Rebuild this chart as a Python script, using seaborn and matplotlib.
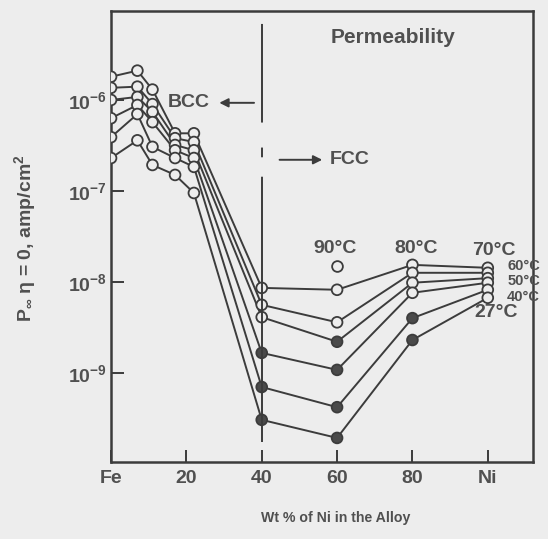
import matplotlib
matplotlib.use("Agg")
import matplotlib.pyplot as plt
import seaborn as sns
import pandas as pd
from matplotlib.ticker import NullLocator

# ---------------- data ----------------
ni_pct = [0, 7, 11, 17, 22, 40, 60, 80, 100]
temps = ["80°C", "70°C", "60°C", "50°C", "40°C", "27°C"]
p_80 = [1.8e-6, 2.1e-6, 1.3e-6, 4.3e-7, 4.3e-7, 8.6e-9, 8.2e-9, 1.54e-8, 1.43e-8]
p_70 = [1.36e-6, 1.4e-6, 9.0e-7, 3.8e-7, 3.45e-7, 5.6e-9, 3.6e-9, 1.26e-8, 1.26e-8]
p_60 = [1.0e-6, 1.08e-6, 7.4e-7, 3.2e-7, 2.8e-7, 4.1e-9, 2.2e-9, 9.8e-9, 1.1e-8]
p_50 = [6.3e-7, 8.8e-7, 5.7e-7, 2.8e-7, 2.3e-7, 1.66e-9, 1.08e-9, 7.6e-9, 9.8e-9]
p_40 = [3.9e-7, 7.0e-7, 3.05e-7, 2.3e-7, 1.84e-7, 7.0e-10, 4.2e-10, 4.0e-9, 8.2e-9]
p_27 = [2.3e-7, 3.6e-7, 1.93e-7, 1.5e-7, 9.5e-8, 3.05e-10, 1.93e-10, 2.3e-9, 6.7e-9]
# filled (1) vs open (0) markers
f_80 = [0, 0, 0, 0, 0, 0, 0, 0, 0]
f_70 = [0, 0, 0, 0, 0, 0, 0, 0, 0]
f_60 = [0, 0, 0, 0, 0, 0, 1, 0, 0]
f_50 = [0, 0, 0, 0, 0, 1, 1, 0, 0]
f_40 = [0, 0, 0, 0, 0, 1, 1, 1, 0]
f_27 = [0, 0, 0, 0, 0, 1, 1, 1, 0]
# isolated 90 °C point
ni_90 = [60]
p_90 = [1.5e-8]

x_ticks = [0, 20, 40, 60, 80, 100]
x_tick_labels = ["Fe", "20", "40", "60", "80", "Ni"]
y_ticks = [1e-6, 1e-7, 1e-8, 1e-9]
y_tick_labels = [r"$10^{-6}$", r"$10^{-7}$", r"$10^{-8}$", r"$10^{-9}$"]

series = [p_80, p_70, p_60, p_50, p_40, p_27]
fills = [f_80, f_70, f_60, f_50, f_40, f_27]
rows = []
for t, vals, ff in zip(temps, series, fills):
    for x, v, f in zip(ni_pct, vals, ff):
        rows.append({"temp": t, "ni": x, "p": v, "filled": f})
df = pd.DataFrame(rows)
df90 = pd.DataFrame({"ni": ni_90, "p": p_90})

# ---------------- style ----------------
sns.set_theme(style="ticks")
BG = "#ededed"
INK = "#3c3c3c"
TXT = "#505050"
plt.rcParams["font.family"] = ["Liberation Sans", "DejaVu Sans"]
plt.rcParams["font.weight"] = "bold"
plt.rcParams["mathtext.fontset"] = "custom"
plt.rcParams["mathtext.rm"] = "Liberation Sans:bold"
plt.rcParams["mathtext.it"] = "Liberation Sans:bold"
plt.rcParams["mathtext.bf"] = "Liberation Sans:bold"
plt.rcParams["mathtext.default"] = "rm"
plt.rcParams["lines.scale_dashes"] = False

fig = plt.figure(figsize=(5.48, 5.39), dpi=100, facecolor=BG)
ax = fig.add_axes([0.2026, 0.1429, 0.7700, 0.8367], facecolor=BG)
ax.set_yscale("log")

sns.lineplot(data=df, x="ni", y="p", units="temp", estimator=None, sort=False,
             color=INK, lw=1.4, ax=ax, legend=False, zorder=2)
sns.scatterplot(data=df, x="ni", y="p", hue="filled", palette={0: BG, 1: "#4a4a4a"},
                edgecolor=INK, linewidth=1.3, s=60, ax=ax, legend=False, zorder=3)
sns.scatterplot(data=df90, x="ni", y="p", color=BG, edgecolor=INK, linewidth=1.3,
                s=60, ax=ax, legend=False, zorder=3)

# BCC / FCC boundary
ax.axvline(40, ymin=0.044, ymax=0.973, color=INK, lw=1.4,
           dashes=(191, 14, 7, 18, 71, 60), zorder=4)

ax.set_xlim(0, 112)
ax.set_ylim(1.05e-10, 9.5e-6)
ax.set_xticks(x_ticks)
ax.set_xticklabels(x_tick_labels)
ax.set_yticks(y_ticks)
ax.set_yticklabels(y_tick_labels)
ax.yaxis.set_minor_locator(NullLocator())
ax.xaxis.set_minor_locator(NullLocator())
ax.tick_params(axis="both", direction="in", length=9, width=1.4, color=INK,
               labelsize=14, labelcolor=TXT)
ax.tick_params(axis="x", pad=6)
ax.tick_params(axis="y", pad=3)
for s in ax.spines.values():
    s.set_color(INK)
    s.set_linewidth(1.8)

ax.set_xlabel("Wt % of Ni in the Alloy", fontsize=10.2, color=TXT, fontweight="bold")
ax.xaxis.set_label_coords(0.533, -0.108)
ax.set_ylabel(r"P$_{\infty}$ η = 0, amp/cm$^2$", fontsize=14, color=TXT, fontweight="bold")
ax.yaxis.set_label_coords(-0.172, 0.497)

# annotations
tk = dict(color=TXT, fontweight="bold", fontsize=14, ha="center", va="center")
sm = {**tk, "fontsize": 10.5}
ax.text(74.8, 4.9e-6, "Permeability", **{**tk, "fontsize": 15})
ax.text(20.7, 9.3e-7, "BCC", **tk)
ax.annotate("", xy=(28.0, 9.3e-7), xytext=(38.7, 9.3e-7),
            arrowprops=dict(arrowstyle="-|>", color=INK, lw=1.4, mutation_scale=13))
ax.annotate("", xy=(56.8, 2.2e-7), xytext=(44.0, 2.2e-7),
            arrowprops=dict(arrowstyle="-|>", color=INK, lw=1.4, mutation_scale=13))
ax.text(58.1, 2.2e-7, "FCC", **{**tk, "ha": "left"})
ax.text(59.4, 2.35e-8, "90°C", **tk)
ax.text(80.9, 2.35e-8, "80°C", **tk)
ax.text(101.6, 2.2e-8, "70°C", **tk)
ax.text(109.5, 1.5e-8, "60°C", **sm)
ax.text(109.5, 1.02e-8, "50°C", **sm)
ax.text(109.5, 6.9e-9, "40°C", **sm)
ax.text(102.1, 4.6e-9, "27°C", **tk)

fig.savefig("out.png", dpi=100, facecolor=BG)
